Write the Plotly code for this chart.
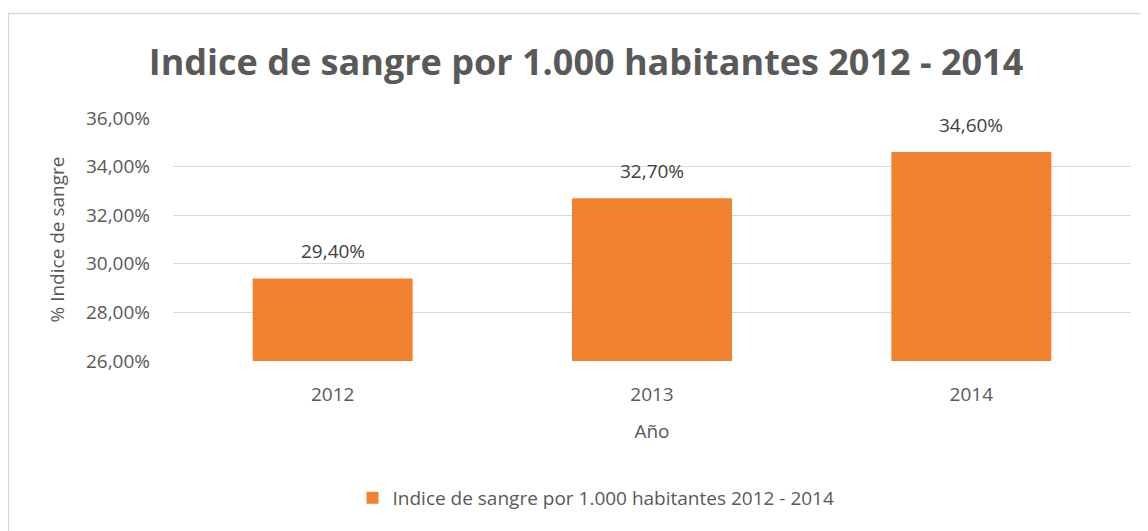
import plotly.graph_objects as go

years = ["2012", "2013", "2014"]
values = [29.40, 32.70, 34.60]
series_name = "Indice de sangre por 1.000 habitantes 2012 - 2014"
title_text = "Indice de sangre por 1.000 habitantes 2012 - 2014"
y_title = "% Indice de sangre"
x_title = "Año"
y_ticks = [26, 28, 30, 32, 34, 36]
y_ticktext = [f"{v:.2f}%".replace(".", ",") for v in y_ticks]

txt = "#595959"
font_family = "Open Sans, Liberation Sans, Arial, sans-serif"
fs = 19

# the page body has an 8px margin; figure coordinates below are page px - 8
W, H = 1140, 523
OFF = 8
L = 173 - OFF
R = W - (1131 - OFF)
T = 118 - OFF
B = H - (361 - OFF)
pw, ph = W - L - R, H - T - B

def px2x(p):
    return (p - OFF - L) / pw

def px2y(p):
    return (H - B - (p - OFF)) / ph

def cx(p):
    return (p - OFF) / W

def cy(p):
    return 1 - (p - OFF) / H

fig = go.Figure()
fig.add_trace(go.Bar(
    x=years, y=values, name=series_name,
    marker=dict(color="#F0812F", line=dict(width=0)),
))
for i, v in enumerate(values):
    fig.add_annotation(x=i, y=v, text=f"{v:.2f}%".replace(".", ","),
                       showarrow=False, yanchor="bottom", yshift=12,
                       font=dict(size=fs, color="#404040", family=font_family))

fig.update_layout(
    width=W, height=H,
    margin=dict(l=L, r=R, t=T, b=B, autoexpand=False),
    paper_bgcolor="white", plot_bgcolor="white",
    separators=",.",
    bargap=0.499,
    title=dict(text="<b>" + title_text + "</b>", x=cx(586), xref="container",
               y=cy(62), yref="container", yanchor="middle", xanchor="center",
               font=dict(size=36, color=txt, family=font_family)),
    font=dict(family=font_family, color=txt, size=fs),
    showlegend=True,
    legend=dict(orientation="h", x=cx(596), xref="container", xanchor="center",
                y=cy(498), yref="container", yanchor="middle",
                font=dict(size=fs, color=txt), itemwidth=30),
    xaxis=dict(type="category", range=[-0.5, len(years) - 0.5],
               showgrid=False, showline=False, ticks="",
               ticklabelstandoff=20,
               tickfont=dict(size=fs, color=txt),
               title=dict(text=x_title, font=dict(size=fs, color=txt), standoff=18)),
    yaxis=dict(range=[26, 36], tickvals=y_ticks, ticktext=y_ticktext,
               showgrid=True, gridcolor="#D9D9D9", gridwidth=1.3, zeroline=False,
               showline=False, ticks="", ticklabelstandoff=22,
               tickfont=dict(size=fs, color=txt),
               title=dict(text=y_title, font=dict(size=fs, color=txt), standoff=16)),
    shapes=[dict(type="rect", xref="paper", yref="paper",
                 x0=px2x(8.5), x1=px2x(1160), y0=px2y(545), y1=px2y(13.5),
                 line=dict(color="#D9D9D9", width=1.3), fillcolor="rgba(0,0,0,0)",
                 layer="below")],
)

fig.write_html("out.html")
